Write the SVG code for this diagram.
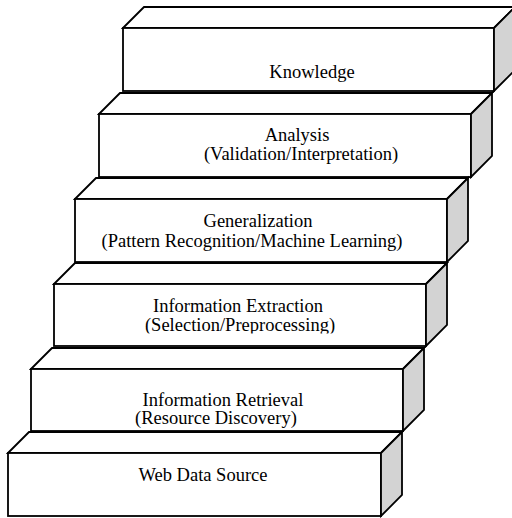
<svg xmlns="http://www.w3.org/2000/svg" width="512" height="518" viewBox="0 0 512 518">
  <style>
    .face { fill: #ffffff; stroke: #000000; stroke-width: 1.8; stroke-linejoin: miter; }
    .side { fill: #d3d3d3; stroke: #000000; stroke-width: 1.8; stroke-linejoin: miter; }
    .label { font-family: "Liberation Serif", "Times New Roman", serif; font-size: 18.5px; fill: #000000; text-anchor: middle; }
  </style>
  <defs>
    <clipPath id="clip-extraction">
      <rect x="54" y="284" width="372" height="49.5"/>
    </clipPath>
  </defs>
  <rect width="512" height="518" fill="#ffffff"/>

  <!-- Steps drawn from top to bottom: top face, front face, shaded side -->
  <g id="knowledge">
    <polygon class="face" points="123,28 144,7 515,7 494,28"/>
    <rect class="face" x="123" y="28" width="371" height="63"/>
    <polygon class="side" points="494,28 515,7 515,70 494,91"/>
    <text class="label" x="312" y="78">Knowledge</text>
  </g>

  <g id="analysis">
    <polygon class="face" points="99,114 120,93 492,93 471,114"/>
    <rect class="face" x="99" y="114" width="372" height="63"/>
    <polygon class="side" points="471,114 492,93 492,156 471,177"/>
    <text class="label" x="297" y="141">Analysis</text>
    <text class="label" x="301" y="160">(Validation/Interpretation)</text>
  </g>

  <g id="generalization">
    <polygon class="face" points="75,199 96,178 468,178 447,199"/>
    <rect class="face" x="75" y="199" width="372" height="63"/>
    <polygon class="side" points="447,199 468,178 468,241 447,262"/>
    <text class="label" x="258" y="227">Generalization</text>
    <text class="label" x="252" y="247">(Pattern Recognition/Machine Learning)</text>
  </g>

  <g id="information-extraction">
    <polygon class="face" points="54,284 75,263 447,263 426,284"/>
    <rect class="face" x="54" y="284" width="372" height="62"/>
    <polygon class="side" points="426,284 447,263 447,325 426,346"/>
    <text class="label" x="238" y="312">Information Extraction</text>
    <text class="label" x="240" y="331" clip-path="url(#clip-extraction)">(Selection/Preprocessing)</text>
  </g>

  <g id="information-retrieval">
    <polygon class="face" points="31,369 52,348 424,348 403,369"/>
    <rect class="face" x="31" y="369" width="372" height="62"/>
    <polygon class="side" points="403,369 424,348 424,410 403,431"/>
    <text class="label" x="223" y="406">Information Retrieval</text>
    <text class="label" x="216" y="424">(Resource Discovery)</text>
  </g>

  <g id="web-data-source">
    <polygon class="face" points="8,453 29,432 402,432 381,453"/>
    <rect class="face" x="8" y="453" width="373" height="63"/>
    <polygon class="side" points="381,453 402,432 402,495 381,516"/>
    <text class="label" x="203" y="481">Web Data Source</text>
  </g>

  <g id="connectors"/>
</svg>
